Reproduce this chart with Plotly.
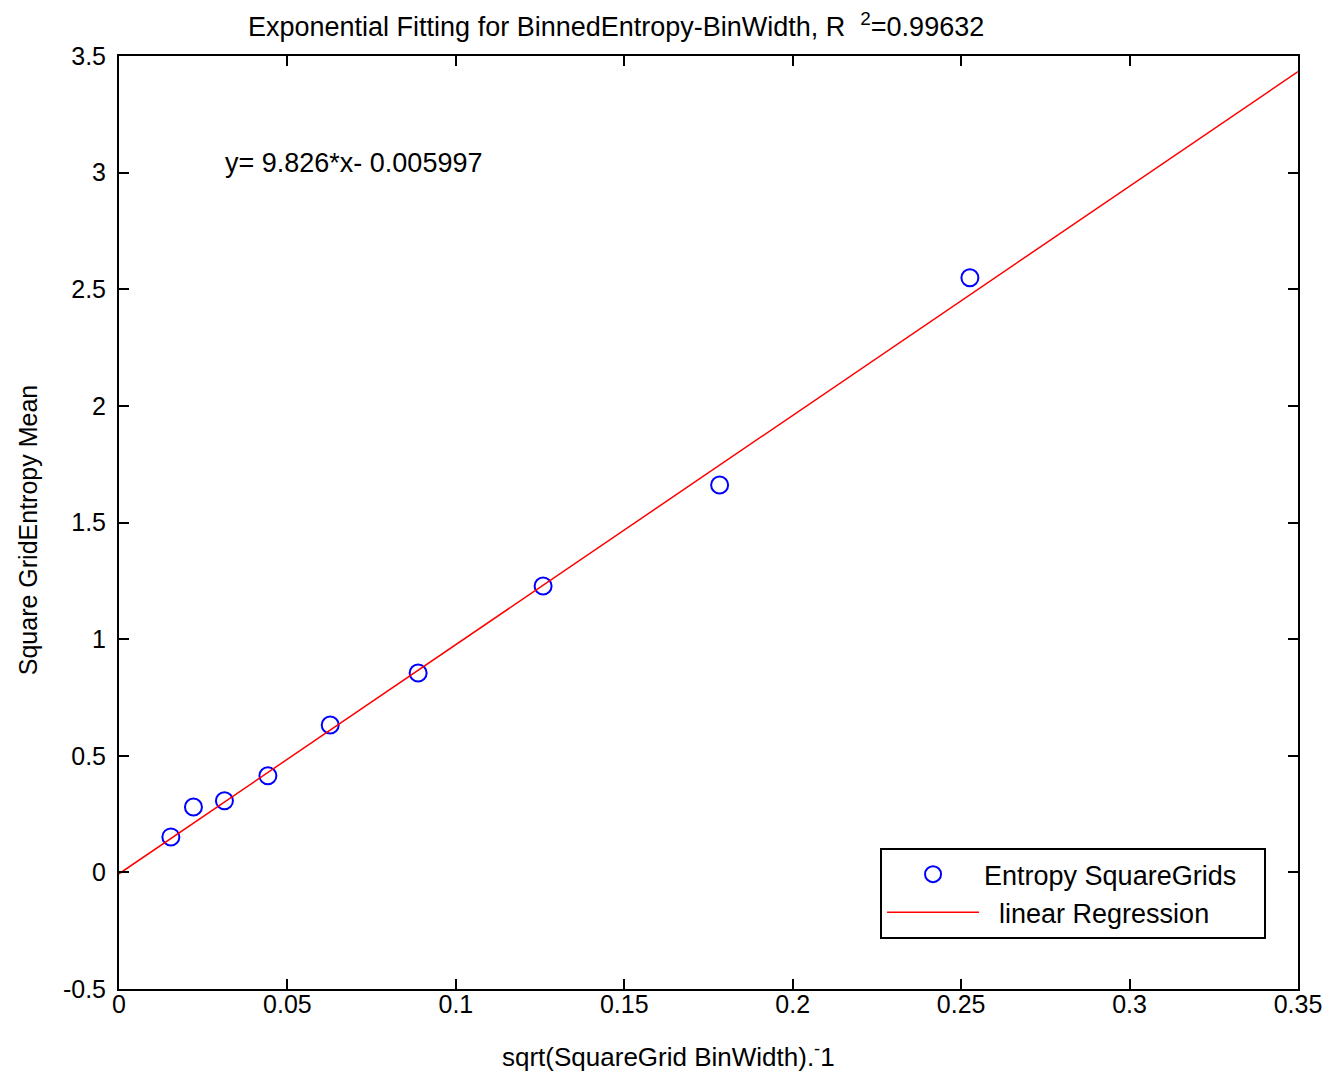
import plotly.graph_objects as go

# Data
x_pts = [0.0154, 0.0221, 0.0313, 0.0442, 0.0627, 0.0888, 0.1259, 0.1783, 0.2526]
y_pts = [0.152, 0.280, 0.307, 0.414, 0.632, 0.855, 1.228, 1.661, 2.549]
slope = 9.826
intercept = -0.005997
x_line = [0.0, 0.35]
y_line = [slope * v + intercept for v in x_line]

x_ticks = [0, 0.05, 0.1, 0.15, 0.2, 0.25, 0.3, 0.35]
x_ticklabels = ["0", "0.05", "0.1", "0.15", "0.2", "0.25", "0.3", "0.35"]
y_ticks = [-0.5, 0, 0.5, 1, 1.5, 2, 2.5, 3, 3.5]
y_ticklabels = ["-0.5", "0", "0.5", "1", "1.5", "2", "2.5", "3", "3.5"]

FONT = "Liberation Sans, Arial, Helvetica, sans-serif"
W, H = 1326, 1064  # page body has an 8px margin

fig = go.Figure()
fig.add_trace(go.Scatter(
    x=x_pts, y=y_pts, mode="markers", name="Entropy SquareGrids\u00a0\u00a0\u00a0",
    marker=dict(symbol="circle-open", size=17, color="#0000ff", line=dict(width=2, color="#0000ff")),
))
fig.add_trace(go.Scatter(
    x=x_line, y=y_line, mode="lines", name="\u00a0\u00a0linear Regression",
    line=dict(color="#ff0000", width=1.5),
))

axis_common = dict(
    showgrid=False, zeroline=False, showline=True, linecolor="black", linewidth=2,
    mirror="allticks", ticks="inside", ticklen=10, tickwidth=1.5, tickcolor="black",
    tickfont=dict(family=FONT, size=25, color="black"),
)
fig.update_xaxes(range=[0, 0.35], tickvals=x_ticks, ticktext=x_ticklabels,
                 ticklabelstandoff=-8, **axis_common)
fig.update_yaxes(range=[-0.5, 3.5], tickvals=y_ticks, ticktext=y_ticklabels,
                 ticklabelstandoff=6, **axis_common)

fig.update_layout(
    width=W, height=H,
    margin=dict(l=111, r=33, t=48, b=83),
    paper_bgcolor="white", plot_bgcolor="white",
    font=dict(family=FONT, size=25, color="black"),
    showlegend=True,
    legend=dict(
        x=0.6455, y=0.151, xanchor="left", yanchor="top",
        bordercolor="black", borderwidth=2, bgcolor="white",
        font=dict(family=FONT, size=27, color="black"),
        itemwidth=92, tracegroupgap=0,
    ),
    title=dict(
        text="Exponential Fitting for BinnedEntropy-BinWidth, R  <sup>2</sup>=0.99632",
        xref="container", yref="container", x=240 / W, xanchor="left",
        y=1 - 19 / H, yanchor="middle",
        font=dict(family=FONT, size=27, color="black"),
    ),
    annotations=[
        dict(text="y= 9.826*x- 0.005997", x=0.031, y=3.04, xref="x", yref="y",
             xanchor="left", yanchor="middle", showarrow=False,
             font=dict(family=FONT, size=27, color="black")),
        dict(text="sqrt(SquareGrid BinWidth).<sup>-</sup>1", x=(670 - 119) / 1182, y=-66 / 933,
             xref="paper", yref="paper", xanchor="center", yanchor="middle", showarrow=False,
             font=dict(family=FONT, size=26, color="black")),
        dict(text="Square GridEntropy Mean", x=(28 - 119) / 1182, y=(989 - 530) / 933,
             xref="paper", yref="paper",
             xanchor="center", yanchor="middle", showarrow=False, textangle=-90,
             font=dict(family=FONT, size=25, color="black")),
    ],
)

fig.write_html("out.html")
